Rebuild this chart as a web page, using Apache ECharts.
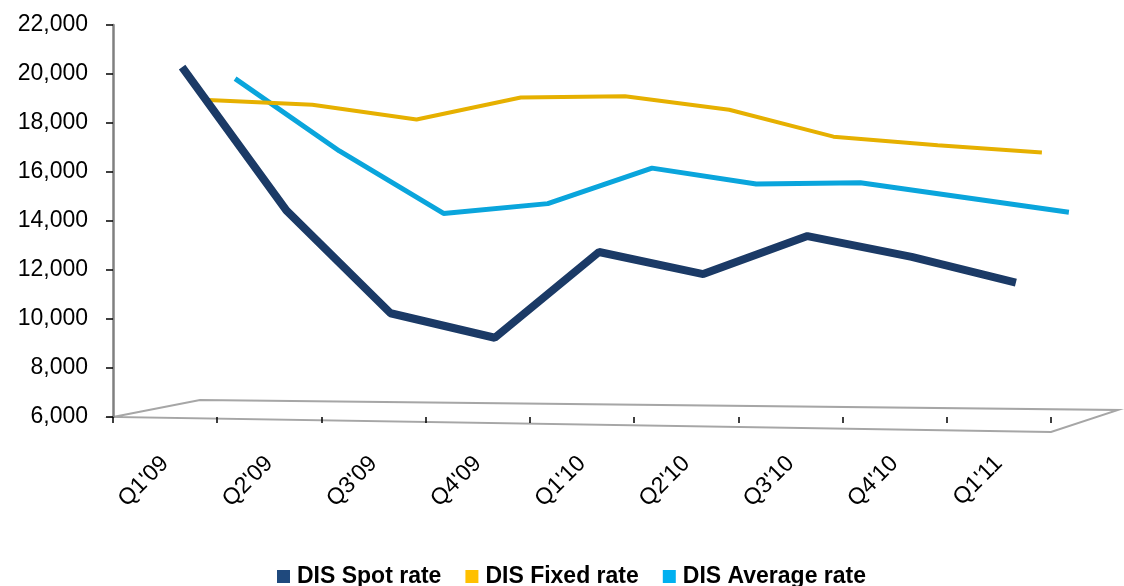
<!DOCTYPE html>
<html>
<head>
<meta charset="utf-8">
<script src="https://cdn.jsdelivr.net/npm/echarts@6/dist/echarts.min.js"></script>
<style>
  html, body { margin: 0; padding: 0; background: #fff; }
  #LineChart { width: 1124px; height: 586px; }
</style>
</head>
<body>
<div id="LineChart"></div>
<script>
// quarters on the category axis
const quarters = ["Q1'09", "Q2'09", "Q3'09", "Q4'09", "Q1'10", "Q2'10", "Q3'10", "Q4'10", "Q1'11"];

// values
const spotRate = [20150, 14300, 10100, 9100, 12600, 11700, 13250, 12400, 11350];
const fixedRate = [18600, 18400, 17800, 18700, 18750, 18200, 17100, 16750, 16450];
const averageRate = [19250, 16300, 13750, 14150, 15600, 14950, 15000, 14400, 13800];

const seriesNames = ['DIS Spot rate', 'DIS Fixed rate', 'DIS Average rate'];

// front plane of the fake 3d box
const base = {left: 113, right: 73, top: 25, bottom: 169};
// each series sits a bit deeper (shift right and up)
const depth = [[17, -3.3], [43, -8.4], [70, -13.7]];

const makeGrid = (dx, dy) => ({
  left: base.left + dx,
  right: base.right - dx,
  top: base.top + dy,
  bottom: base.bottom - dy,
});

var myChart = echarts.init(document.getElementById('LineChart'));

const hiddenX = (i) => ({
  type: 'category', gridIndex: i, data: quarters, boundaryGap: true,
  show: false,
});
const hiddenY = (i) => ({
  type: 'value', gridIndex: i, min: 6000, max: 22000, interval: 2000,
  show: false, splitLine: {show: false},
});

const option = {
  backgroundColor: '#fff',
  animation: false,
  textStyle: {fontFamily: 'Liberation Sans, Arial, sans-serif'},
  grid: [
    makeGrid(0, 0),
    makeGrid(depth[0][0], depth[0][1]),
    makeGrid(depth[1][0], depth[1][1]),
    makeGrid(depth[2][0], depth[2][1]),
  ],
  legend: {
    left: 272,
    top: 560,
    icon: 'rect',
    itemWidth: 13,
    itemHeight: 13,
    itemGap: 24,
    data: seriesNames,
    textStyle: {
      fontSize: 23,
      fontWeight: 'bold',
      color: '#000',
      padding: [0, 0, 0, 2],
    },
  },
  xAxis: [
    {
      type: 'category',
      gridIndex: 0,
      data: quarters,
      boundaryGap: true,
      axisLine: {show: false},
      axisTick: {
        show: true,
        interval: 0,
        length: 6,
        lineStyle: {color: '#000', width: 1.5},
      },
      axisLabel: {
        interval: 0,
        rotate: 45,
        margin: 43,
        fontSize: 23,
        color: '#000',
      },
      splitLine: {show: false},
    },
    hiddenX(1), hiddenX(2), hiddenX(3),
  ],
  yAxis: [
    {
      type: 'value',
      gridIndex: 0,
      min: 6000,
      max: 22000,
      interval: 2000,
      axisLine: {
        show: true,
        lineStyle: {color: '#808080', width: 2.5},
      },
      axisTick: {
        show: true,
        length: 7,
        lineStyle: {color: '#000', width: 1.5},
      },
      axisLabel: {
        margin: 25,
        fontSize: 23,
        color: '#000',
        formatter: (v) => v.toLocaleString('en-US'),
      },
      splitLine: {show: false},
    },
    hiddenY(1), hiddenY(2), hiddenY(3),
  ],
  // floor of the 3d box
  graphic: [
    {
      type: 'polygon',
      silent: true,
      z: 0,
      shape: {points: [[113, 417], [200, 400], [1118, 410], [1051, 432]]},
      style: {fill: 'none', stroke: '#a6a6a6', lineWidth: 2},
    },
  ],
  series: [
    {
      name: seriesNames[0],
      type: 'line',
      xAxisIndex: 1,
      yAxisIndex: 1,
      z: 4,
      showSymbol: false,
      symbol: 'none',
      lineStyle: {width: 8, color: '#1b3a66', join: 'bevel'},
      itemStyle: {color: '#1f497d'},
      data: spotRate,
    },
    {
      name: seriesNames[1],
      type: 'line',
      xAxisIndex: 2,
      yAxisIndex: 2,
      z: 3,
      showSymbol: false,
      symbol: 'none',
      lineStyle: {width: 4, color: '#e6b000', join: 'bevel'},
      itemStyle: {color: '#ffc000'},
      data: fixedRate,
    },
    {
      name: seriesNames[2],
      type: 'line',
      xAxisIndex: 3,
      yAxisIndex: 3,
      z: 2,
      showSymbol: false,
      symbol: 'none',
      lineStyle: {width: 5, color: '#0aa5dc', join: 'bevel'},
      itemStyle: {color: '#00b0f0'},
      data: averageRate,
    },
  ],
};

myChart.setOption(option);
</script>
</body>
</html>
